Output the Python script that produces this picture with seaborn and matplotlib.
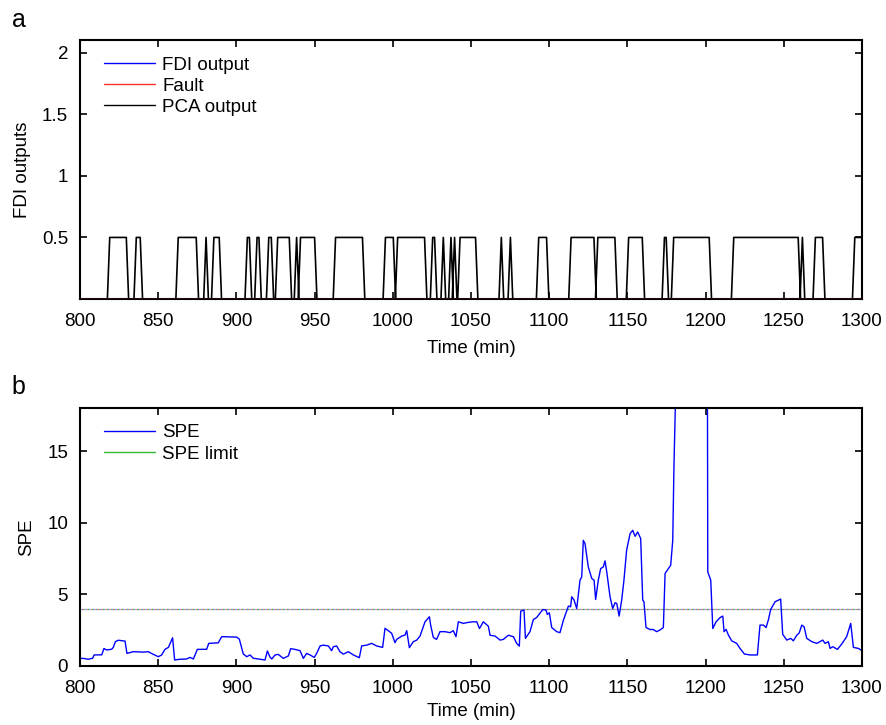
import numpy as np
import pandas as pd
import seaborn as sns
import matplotlib
matplotlib.use("Agg")
import matplotlib.pyplot as plt
from matplotlib.lines import Line2D

# ---------------- data ----------------
# PCA output pulses (plateau start / end at 0.5), minutes
pulse_on = [819.0, 836.0, 862.8, 880.6, 885.6, 907.0, 913.2, 920.7, 926.4, 938.5,
            941.0, 963.4, 995.3, 1003.1, 1025.5, 1032.3, 1037.2, 1039.5, 1043.0,
            1069.4, 1075.2, 1093.3, 1114.0, 1131.1, 1150.8, 1173.7, 1179.6, 1218.0,
            1261.9, 1270.2, 1295.4]
pulse_off = [829.6, 838.5, 874.3, 880.6, 889.0, 908.3, 914.4, 922.3, 933.8, 938.5,
             950.0, 980.6, 1000.3, 1020.3, 1026.7, 1032.3, 1037.2, 1039.5, 1052.9,
             1069.4, 1075.2, 1098.3, 1128.6, 1142.0, 1159.5, 1174.8, 1202.3, 1259.2,
             1261.9, 1274.8, 1301.0]
pca_level = 0.5
time_range = [800, 1300]

spe_t = [800.0, 802.1, 805.3, 808.1, 809.0, 813.9, 815.3, 817.0, 820.2, 821.3, 822.6, 824.5,
         828.8, 830.0, 834.1, 840.5, 843.7, 845.8, 850.1, 852.2, 854.3, 856.5, 859.2,
         860.5, 863.9, 868.2, 870.3, 872.5, 875.0, 881.0, 882.3, 888.4, 890.6, 900.2,
         901.9, 904.4, 906.6, 908.7, 910.8, 918.3, 919.8, 921.5, 922.6, 924.7, 926.8,
         930.0, 933.2, 934.7, 937.5, 940.7, 942.8, 944.9, 947.1, 949.8, 951.3, 953.5,
         955.6, 958.8, 960.9, 962.0, 964.1, 966.2, 968.4, 971.6, 974.8, 978.6, 980.1,
         983.3, 986.5, 989.7, 993.5, 995.0, 997.1, 999.3, 1001.4, 1002.5, 1005.7,
         1007.8, 1008.9, 1010.6, 1013.1, 1015.3, 1017.4, 1020.6, 1023.4, 1024.2,
         1025.9, 1028.0, 1030.2, 1033.4, 1036.6, 1038.7, 1040.4, 1041.9, 1045.1,
         1048.3, 1051.5, 1053.7, 1055.4, 1057.9, 1061.1, 1062.2, 1065.4, 1068.6,
         1070.7, 1073.9, 1077.1, 1079.2, 1080.9, 1081.8, 1083.9, 1084.8, 1087.7,
         1089.9, 1092.0, 1095.9, 1098.0, 1098.8, 1100.1, 1101.6, 1104.8, 1106.9,
         1109.1, 1112.3, 1113.7, 1114.4, 1115.9, 1117.6, 1119.7, 1120.8, 1121.8,
         1122.9, 1125.0, 1127.2, 1128.7, 1129.7, 1131.4, 1132.9, 1134.6, 1135.7,
         1136.8, 1138.9, 1140.6, 1142.1, 1143.2, 1144.7, 1146.4, 1147.8, 1149.5,
         1151.7, 1153.4, 1154.9, 1156.6, 1158.5, 1159.8, 1160.6, 1161.9, 1164.5,
         1166.6, 1168.7, 1170.9, 1173.0, 1174.1, 1176.2, 1177.7, 1179.0, 1179.8,
         1181.5, 1185.0, 1190.0, 1195.0, 1200.0, 1201.2, 1201.4, 1203.3, 1204.6,
         1206.7, 1209.3, 1211.0, 1211.8, 1213.1, 1214.6, 1216.7, 1219.9, 1222.0,
         1224.8, 1228.4, 1233.1, 1234.8, 1237.0, 1238.7, 1240.2, 1241.6, 1244.4,
         1248.0, 1249.3, 1251.9, 1254.4, 1256.1, 1258.3, 1259.9, 1261.5, 1263.0,
         1264.7, 1267.9, 1271.1, 1274.9, 1276.4, 1278.5, 1279.6, 1281.3, 1284.3,
         1287.0, 1290.2, 1292.8, 1294.5, 1297.7, 1300.0]
spe_v = [0.51, 0.51, 0.45, 0.52, 0.75, 0.76, 1.2, 1.1, 1.15, 1.28, 1.68, 1.78,
         1.72, 0.86, 0.98, 0.95, 0.98, 0.85, 0.63, 0.75, 1.14, 1.28, 1.95,
         0.4, 0.45, 0.47, 0.58, 0.47, 1.14, 1.15, 1.56, 1.6, 2.03, 2.0,
         1.85, 0.82, 0.63, 0.75, 0.52, 0.4, 1.03, 0.6, 0.47, 0.75, 0.79,
         0.51, 0.68, 1.19, 1.14, 1.05, 0.51, 0.86, 0.75, 0.58, 0.86, 1.38,
         1.44, 1.38, 1.05, 1.33, 1.38, 0.98, 0.81, 0.98, 0.75, 0.56, 1.38,
         1.44, 1.56, 1.38, 1.28, 2.61, 2.45, 2.26, 1.61, 1.84, 2.07,
         2.14, 2.45, 1.26, 1.68, 1.79, 2.07, 3.07, 3.42, 2.84,
         1.98, 1.84, 2.38, 2.38, 2.31, 2.45, 2.03, 3.07, 2.96,
         3.03, 3.07, 3.07, 2.6, 3.07, 2.76, 2.13, 2.07, 1.79,
         1.84, 2.13, 2.03, 1.56, 1.37, 3.82, 3.89, 1.91, 2.38,
         3.23, 3.37, 3.93, 3.89, 3.58, 3.7, 2.67, 2.38, 2.31,
         3.19, 4.17, 4.12, 4.82, 4.59, 4.0, 5.98, 6.21, 8.77,
         8.54, 6.91, 6.1, 5.98, 4.63, 5.98, 6.79, 6.91, 7.33,
         6.56, 4.82, 4.0, 4.4, 4.35, 3.47, 4.63, 5.98, 8.07,
         9.23, 9.47, 9.05, 9.35, 8.89, 4.59, 4.47, 2.67, 2.53,
         2.53, 2.38, 2.5, 2.67, 6.45, 6.79, 7.03, 8.77, 14.1,
         22.0, 28.0, 32.0, 30.0, 25.0, 18.5, 6.56, 5.98, 2.6,
         3.07, 3.37, 3.47, 2.38, 2.54, 2.14, 1.74, 1.56, 1.21,
         0.82, 0.75, 0.75, 2.84, 2.84, 2.67, 3.23, 3.93, 4.47,
         4.66, 2.2, 1.79, 1.91, 1.74, 2.13, 2.3, 2.84, 2.72,
         1.91, 1.68, 1.56, 1.79, 1.56, 1.68, 1.21, 1.33, 1.14,
         1.51, 2.03, 2.96, 1.28, 1.21, 1.05]
spe_limit = 4.0

x_ticks = [800, 850, 900, 950, 1000, 1050, 1100, 1150, 1200, 1250, 1300]
top_yticks = [0.5, 1, 1.5, 2]
bot_yticks = [0, 5, 10, 15]

# build PCA output vertices from pulses
ramp = 1.5
pca_t, pca_v = [time_range[0]], [0.0]
for on, off in zip(pulse_on, pulse_off):
    pca_t += [on - ramp, on, off, off + ramp]
    pca_v += [0.0, pca_level, pca_level, 0.0]
pca_t.append(time_range[1] + 5)
pca_v.append(0.0)
df_pca = pd.DataFrame({"t": pca_t, "v": pca_v})
df_zero = pd.DataFrame({"t": time_range, "v": [0.0, 0.0]})
df_spe = pd.DataFrame({"t": spe_t, "v": spe_v})

# ---------------- style ----------------
FS = 13.5
sns.set_style("ticks")
plt.rcParams.update({
    "font.family": ["Liberation Sans", "DejaVu Sans"],
    "font.size": FS,
    "text.color": "black", "axes.labelcolor": "black",
    "xtick.labelcolor": "black", "ytick.labelcolor": "black",
    "xtick.direction": "in", "ytick.direction": "in",
    "xtick.top": True, "ytick.right": True,
    "xtick.major.size": 5, "ytick.major.size": 5,
    "xtick.major.width": 1.2, "ytick.major.width": 1.2,
    "axes.linewidth": 1.5,
    "xtick.color": "black", "ytick.color": "black",
    "axes.edgecolor": "black",
})

fig = plt.figure(figsize=(8.87, 7.25), dpi=100)
ax1 = fig.add_axes([0.0902, 0.5876, 0.8816, 0.3566])
ax2 = fig.add_axes([0.0902, 0.0818, 0.8816, 0.3550])

leg_kw = dict(loc="upper left", frameon=False, handlelength=2.75,
              handletextpad=0.38, labelspacing=0.22, borderaxespad=0.45,
              bbox_to_anchor=(0.01, 1.0), fontsize=FS)

# ---- panel a ----
sns.lineplot(data=df_zero, x="t", y="v", ax=ax1, color="#0000ff", lw=1.0,
             estimator=None, sort=False)
sns.lineplot(data=df_pca, x="t", y="v", ax=ax1, color="black", lw=1.2,
             estimator=None, sort=False)
sns.lineplot(data=df_zero, x="t", y="v", ax=ax1, color="#c0203a", lw=1.0,
             estimator=None, sort=False, zorder=3)
ax1.set_xlim(*time_range)
ax1.set_ylim(0, 2.1)
ax1.set_xticks(x_ticks)
ax1.set_yticks(top_yticks)
ax1.set_yticklabels(["0.5", "1", "1.5", "2"])
ax1.set_xlabel("Time (min)", labelpad=7.5)
ax1.set_ylabel("FDI outputs", labelpad=8)
h1 = [Line2D([], [], color="#0000ff", lw=1.0),
      Line2D([], [], color="#ff3030", lw=1.0),
      Line2D([], [], color="black", lw=1.0)]
ax1.legend(h1, ["FDI output", "Fault", "PCA output"], **leg_kw)

# ---- panel b ----
ax2.axhline(spe_limit, color="#33bb33", lw=0.9, ls=(0, (1, 2)))
ax2.axhline(spe_limit, color="#ee7777", lw=0.9, ls=(1, (1, 2)))
ax2.axhline(spe_limit, color="#7777ee", lw=0.9, ls=(2, (1, 2)))
sns.lineplot(data=df_spe, x="t", y="v", ax=ax2, color="#0000ff", lw=1.0,
             estimator=None, sort=False)
ax2.set_xlim(*time_range)
ax2.set_ylim(0, 18)
ax2.set_xticks(x_ticks)
ax2.set_yticks(bot_yticks)
ax2.set_xlabel("Time (min)", labelpad=4.5)
ax2.set_ylabel("SPE", labelpad=9)
h2 = [Line2D([], [], color="#0000ff", lw=1.0),
      Line2D([], [], color="#33bb33", lw=1.0)]
ax2.legend(h2, ["SPE", "SPE limit"], **leg_kw)

for ax in (ax1, ax2):
    ax.tick_params(axis="x", labelsize=FS, pad=10)
    ax.tick_params(axis="y", labelsize=FS, pad=8.5)

fig.text(0.013, 0.963, "a", fontsize=18)
fig.text(0.013, 0.457, "b", fontsize=18)

fig.savefig("out.png", dpi=100)
